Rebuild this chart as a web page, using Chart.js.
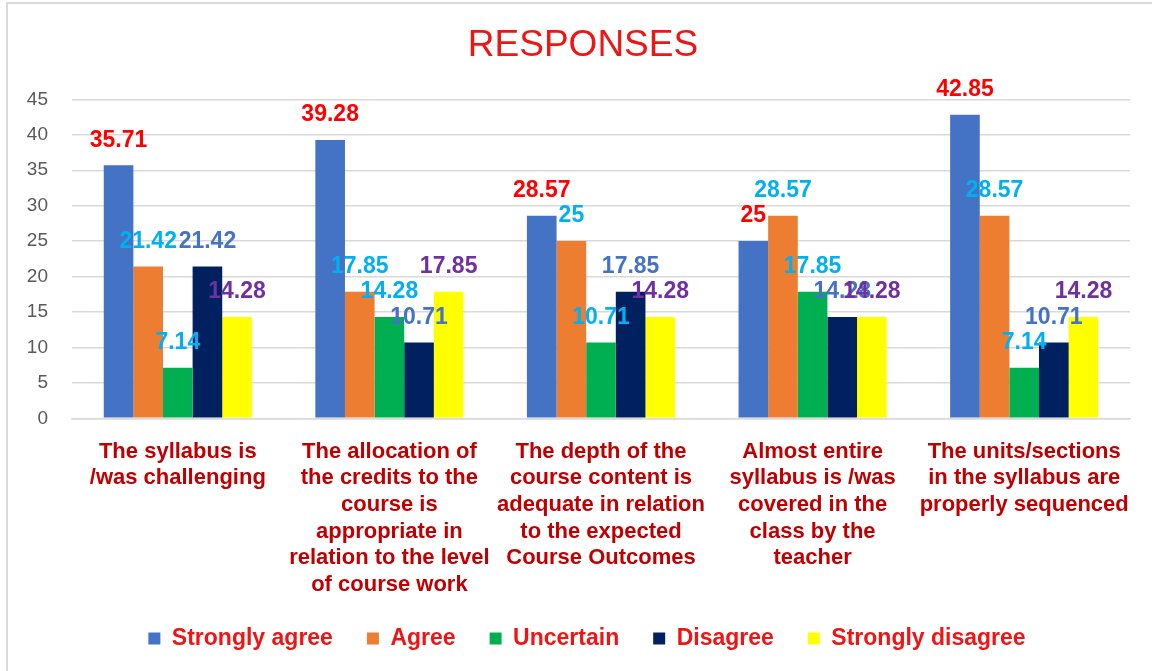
<!DOCTYPE html>
<html>
<head>
<meta charset="utf-8">
<script src="https://cdn.jsdelivr.net/npm/chart.js@4"></script>
<style>
  html, body { margin: 0; padding: 0; background: #ffffff; overflow: hidden; }
  #wrap { position: relative; width: 1152px; height: 671px; }
  #frame { position: absolute; left: 6px; top: 2px; width: 1160px; height: 680px; border: 2px solid #D9D9D9; box-sizing: border-box; }
  #c { position: absolute; left: 0; top: 0; }
</style>
</head>
<body>
<div id="wrap">
  <div id="frame"></div>
  <canvas id="c" width="1152" height="671"></canvas>
</div>
<script>
const categories = [
  ["The syllabus is", "/was challenging"],
  ["The allocation of", "the credits to the", "course is", "appropriate in", "relation to the level", "of course work"],
  ["The depth of the", "course content is", "adequate in relation", "to the expected", "Course Outcomes"],
  ["Almost entire", "syllabus is /was", "covered in the", "class by the", "teacher"],
  ["The units/sections", "in the syllabus are", "properly sequenced"]
];
const seriesNames = ["Strongly agree", "Agree", "Uncertain", "Disagree", "Strongly disagree"];
const stronglyAgree    = [35.71, 39.28, 28.57, 25, 42.85];
const agree            = [21.42, 17.85, 25, 28.57, 28.57];
const uncertain        = [7.14, 14.28, 10.71, 17.85, 7.14];
const disagree         = [21.42, 10.71, 17.85, 14.28, 10.71];
const stronglyDisagree = [14.28, 17.85, 14.28, 14.28, 14.28];
const yTicks = [0, 5, 10, 15, 20, 25, 30, 35, 40, 45];

const barColors   = ["#4472C4", "#ED7D31", "#00B050", "#002060", "#FFFF00"];
const labelColors = ["#FF0000", "#00B0F0", "#00B0F0", "#4472C4", "#7030A0"];
const FONT = "'Liberation Sans', Arial, Helvetica, sans-serif";

const seriesValues = [stronglyAgree, agree, uncertain, disagree, stronglyDisagree];

const valueLabels = {
  id: 'valueLabels',
  afterDatasetsDraw(chart) {
    const ctx = chart.ctx;
    ctx.save();
    ctx.font = "bold 23px " + FONT;
    ctx.textAlign = 'center';
    ctx.textBaseline = 'middle';
    chart.data.datasets.forEach((ds, di) => {
      const meta = chart.getDatasetMeta(di);
      ctx.fillStyle = labelColors[di];
      meta.data.forEach((bar, i) => {
        ctx.fillText(String(ds.data[i]), bar.x, bar.y - 25);
      });
    });
    ctx.restore();
  }
};

const shiftBlocks = {
  id: 'shiftBlocks',
  afterLayout(chart) {
    if (chart.legend) { chart.legend.left += 22; chart.legend.right += 22; }
    if (chart.titleBlock) { chart.titleBlock.left += 18; chart.titleBlock.right += 18; }
  }
};

new Chart(document.getElementById('c'), {
  type: 'bar',
  data: {
    labels: categories,
    datasets: seriesNames.map((name, i) => ({
      label: name,
      data: seriesValues[i],
      backgroundColor: barColors[i],
      borderWidth: 0,
      categoryPercentage: 0.7,
      barPercentage: 1.0
    }))
  },
  options: {
    responsive: false,
    animation: false,
    devicePixelRatio: 1,
    layout: { padding: { left: 0, right: 22, top: 0, bottom: 11 } },
    plugins: {
      tooltip: { enabled: false },
      title: {
        display: true,
        text: 'RESPONSES',
        color: '#EE1515',
        font: { family: FONT, size: 37, weight: 'normal', lineHeight: 1.2 },
        padding: { top: 24, bottom: 31 }
      },
      legend: {
        position: 'bottom',
        labels: {
          color: '#F01414',
          font: { family: FONT, size: 23, weight: 'bold' },
          boxWidth: 12,
          boxHeight: 12,
          padding: 34
        }
      }
    },
    scales: {
      x: {
        grid: { display: false, drawTicks: false },
        border: { display: true, color: '#D9D9D9', width: 1.5 },
        afterFit(scale) {
          scale.height -= 25;
          scale._computeLabelArea = function () { return undefined; };
        },
        ticks: {
          color: '#C00000',
          font: { family: FONT, size: 22, weight: 'bold', lineHeight: 1.21 },
          padding: 20,
          maxRotation: 0,
          autoSkip: false
        }
      },
      y: {
        min: 0,
        max: 45,
        afterBuildTicks(scale) { scale.ticks = yTicks.map(v => ({ value: v })); },
        afterFit(scale) { scale.width = 72; },
        grid: { color: '#D9D9D9', lineWidth: 1.5, drawTicks: false },
        border: { display: false },
        ticks: {
          color: '#595959',
          font: { family: FONT, size: 19 },
          padding: 24
        }
      }
    }
  },
  plugins: [valueLabels, shiftBlocks]
});
</script>
</body>
</html>
